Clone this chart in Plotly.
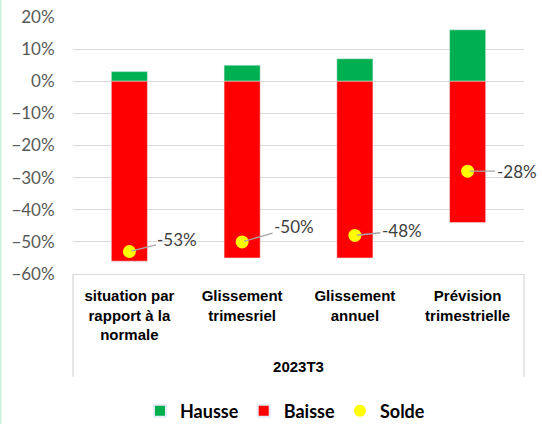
import plotly.graph_objects as go

categories = ["situation par<br>rapport à la<br>normale", "Glissement<br>trimesriel",
              "Glissement<br>annuel", "Prévision<br>trimestrielle"]
hausse = [0.03, 0.05, 0.07, 0.16]
baisse = [-0.56, -0.55, -0.55, -0.44]
solde = [-0.53, -0.50, -0.48, -0.28]
solde_labels = ["-53%", "-50%", "-48%", "-28%"]
label_offsets = [(48, -12), (52, -15), (47, -5), (49, 0)]
group_label = "2023T3"
yticks = [0.2, 0.1, 0.0, -0.1, -0.2, -0.3, -0.4, -0.5, -0.6]

fig = go.Figure()
fig.add_trace(go.Bar(x=categories, y=hausse, name="Hausse", marker_color="#00B050",
                     width=0.32))
fig.add_trace(go.Bar(x=categories, y=baisse, name="Baisse", marker_color="#FF0000",
                     width=0.32))
fig.add_trace(go.Scatter(x=categories, y=solde, name="Solde", mode="markers",
                         marker=dict(color="#FFFF00", size=13)))

for c, v, t, (ax, ay) in zip(categories, solde, solde_labels, label_offsets):
    fig.add_annotation(x=c, y=v, text=t, showarrow=True, arrowhead=0, arrowwidth=1.3,
                       arrowcolor="#A6A6A6", ax=ax, ay=ay, standoff=2,
                       font=dict(family="Lato", size=17, color="#404040"))

fig.update_layout(
    width=542, height=424,
    margin=dict(l=73, r=18, t=17, b=150, autoexpand=False),
    barmode="relative",
    plot_bgcolor="white", paper_bgcolor="white",
    showlegend=True,
    legend=dict(orientation="h", x=0.47, xanchor="center", y=-137 / 257, yanchor="middle",
                font=dict(family="Lato", size=18, color="black", weight="bold"),
                traceorder="normal", itemsizing="constant", itemwidth=30),
    xaxis=dict(range=[-0.5, len(categories) - 0.5], autorange=False,
               showgrid=False, showline=True, linecolor="#D9D9D9", linewidth=1.3,
               automargin=False,
               tickfont=dict(family="Liberation Sans", size=15, color="black", weight="bold"),
               ticks="outside", ticklen=8, tickcolor="white",
               title=dict(text=group_label, standoff=19,
                          font=dict(family="Liberation Sans", size=15, color="black",
                                    weight="bold"))),
    yaxis=dict(range=[-0.6, 0.2], tickvals=yticks, tickformat=".0%", automargin=False,
               showgrid=True, gridcolor="#D9D9D9", gridwidth=1.3,
               zeroline=True, zerolinecolor="#D9D9D9", zerolinewidth=1.3,
               tickfont=dict(family="Lato", size=17, color="#595959"),
               ticks="outside", ticklen=14, tickcolor="white"),
)

for xp in (0, 1):
    fig.add_shape(type="line", xref="paper", yref="paper", x0=xp, x1=xp, y0=0, y1=-0.40,
                  line=dict(color="#D9D9D9", width=1.3))
fig.add_shape(type="line", xref="paper", yref="paper", x0=-73/451, x1=-73/451,
              y0=-150/257, y1=1 + 17/257, line=dict(color="#C8EEDC", width=3))

fig.write_html("out.html", config={"displayModeBar": False},
               post_script="document.body.style.margin='0';document.body.style.overflow='hidden';")
